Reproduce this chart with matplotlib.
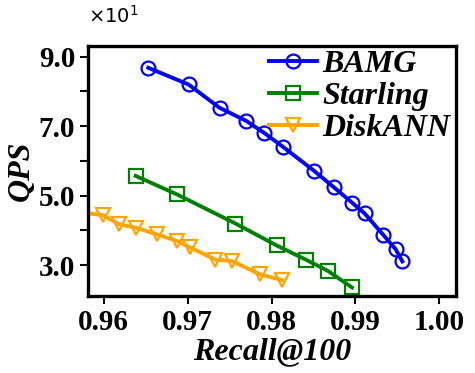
import numpy as np
import matplotlib.pyplot as plt
from matplotlib.ticker import ScalarFormatter, MultipleLocator

plt.rcParams['font.family'] = ['Liberation Serif', 'DejaVu Sans']
plt.rcParams['mathtext.fontset'] = 'dejavusans'

# recall@100 / QPS
bamg_recall = [0.9653, 0.9701, 0.9738, 0.9770, 0.9791, 0.9814, 0.9851, 0.9874,
               0.9896, 0.9911, 0.9933, 0.9948, 0.9956]
bamg_qps = [86.8, 82.0, 75.3, 71.5, 68.1, 64.0, 57.1, 52.5, 48.0, 44.9, 38.8, 34.6, 31.1]

starling_recall = [0.9638, 0.9687, 0.9757, 0.9806, 0.9841, 0.9867, 0.9896]
starling_qps = [55.7, 50.4, 42.0, 35.7, 31.6, 28.4, 23.6]

diskann_recall = [0.9550, 0.9599, 0.9618, 0.9638, 0.9663, 0.9687, 0.9703, 0.9733,
                  0.9753, 0.9786, 0.9813]
diskann_qps = [45.9, 44.4, 41.8, 40.8, 38.9, 37.0, 35.1, 31.6, 31.2, 27.4, 25.7]


class OneDecimal(ScalarFormatter):
    def _set_format(self):
        self.format = '%1.1f'


fig = plt.figure(figsize=(4.75, 3.73), dpi=100)
ax = fig.add_axes([0.185, 0.206, 0.775, 0.671])

kw = dict(lw=2.8, markersize=10, markerfacecolor='none', markeredgewidth=1.6)
ax.plot(bamg_recall, bamg_qps, '-o', color='blue', label='BAMG', **kw)
ax.plot(starling_recall, starling_qps, '-s', color='green', label='Starling', **kw)
ax.plot(diskann_recall, diskann_qps, '-v', color='orange', label='DiskANN', **kw)

ax.set_xlim(0.9581, 1.002)
ax.set_ylim(21.1, 93.1)
ax.set_xticks([0.96, 0.97, 0.98, 0.99, 1.00])
ax.set_xticklabels(['0.96', '0.97', '0.98', '0.99', '1.00'])
ax.yaxis.set_major_locator(MultipleLocator(20, offset=10))
ax.yaxis.set_minor_locator(MultipleLocator(20))
fmt = OneDecimal(useMathText=True)
fmt.set_powerlimits((0, 0))
ax.yaxis.set_major_formatter(fmt)
ax.yaxis.get_offset_text().set_visible(False)
ax.text(0.0, 1.075, r'$\times10^{1}$', transform=ax.transAxes, fontsize=14,
        family='DejaVu Sans', ha='left', va='bottom')

for lab in ax.get_xticklabels() + ax.get_yticklabels():
    lab.set_fontsize(21)
    lab.set_fontweight('bold')
ax.tick_params(which='both', length=6, width=1.5, pad=3)
for s in ax.spines.values():
    s.set_linewidth(2.4)

ax.set_xlabel('Recall@100', fontsize=23, fontweight='bold', style='italic', labelpad=1)
ax.set_ylabel('QPS', fontsize=23, fontweight='bold', style='italic', labelpad=2)

ax.legend(loc='upper right', frameon=False, prop=dict(size=23, weight='bold', style='italic'),
          handlelength=1.5, handletextpad=0.15, labelspacing=0.08,
          borderaxespad=0.0, bbox_to_anchor=(1.019, 1.035))

fig.savefig('out.png', dpi=100)
